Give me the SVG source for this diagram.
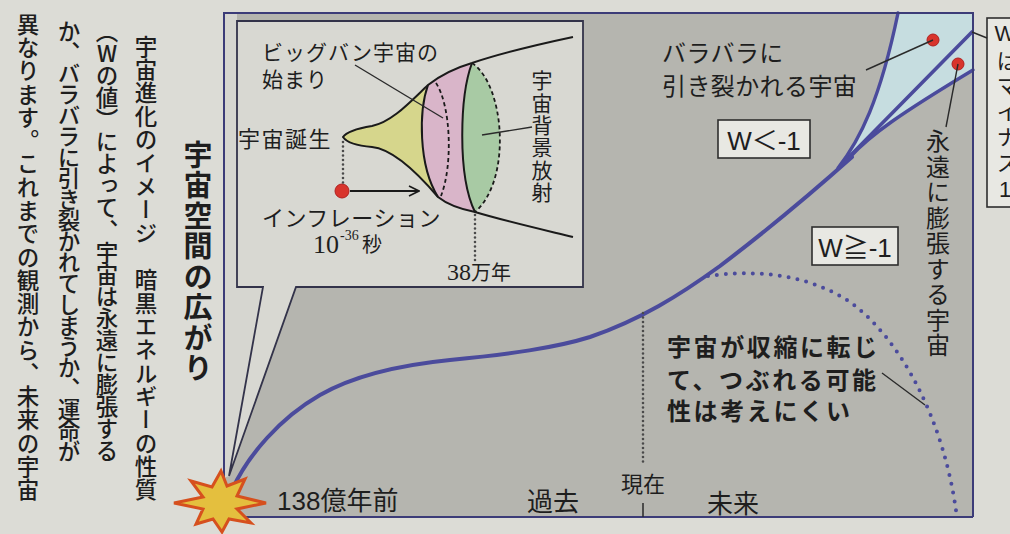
<svg xmlns="http://www.w3.org/2000/svg" width="1010" height="534" viewBox="0 0 1010 534">
  <style>
    .jp { font-family: "Noto Sans CJK JP", "Noto Sans CJK SC", sans-serif; fill: #1e1e1e; }
    .lat { font-family: "Liberation Sans", "Noto Sans CJK JP", sans-serif; fill: #1e1e1e; }
    .ser { font-family: "Liberation Serif", "Noto Sans CJK JP", serif; fill: #1e1e1e; }
    .vt { writing-mode: vertical-rl; text-orientation: upright; }
    .body { font-weight: 500; }
    .frame { fill: none; stroke: #3c3c78; stroke-width: 2; }
    .curve { fill: none; stroke: #4b4b9c; stroke-linecap: round; }
    .leader { fill: none; stroke: #2a2a2a; stroke-width: 1.4; }
    .ink { fill: none; stroke: #1a1a1a; stroke-width: 2; }
    .dash { fill: none; stroke: #1a1a1a; stroke-width: 1.8; stroke-dasharray: 4 3; }
    .dots { fill: none; stroke: #4a4a4a; stroke-width: 2.6; stroke-linecap: round; stroke-dasharray: 0 4.5; }
    .label-box { fill: #e8e8e3; stroke: #2e2e2e; stroke-width: 1.6; }
    .pin { fill: #d8342c; stroke: #b02020; stroke-width: 1; }
  </style>
  <defs>
    <marker id="chev" viewBox="0 0 12 12" refX="11" refY="6" markerWidth="12" markerHeight="12" markerUnits="userSpaceOnUse" orient="auto">
      <path d="M1,1 L11,6 L1,11" fill="none" stroke="#1a1a1a" stroke-width="1.6"/>
    </marker>
  </defs>

  <!-- paper -->
  <rect width="1010" height="534" fill="#dcdcd6"/>

  <!-- body text columns (vertical, right to left) -->
  <g id="article">
    <text class="jp vt" x="198" y="140" font-size="29" font-weight="bold" letter-spacing="1.5">宇宙空間の広がり</text>
    <text class="jp vt body" x="146" y="35" font-size="22.5" textLength="466" lengthAdjust="spacing">宇宙進化のイメージ　暗黒エネルギーの性質</text>
    <text class="jp vt body" x="107" y="20" font-size="22.5" textLength="442" lengthAdjust="spacing">（Wの値）によって、宇宙は永遠に膨張する</text>
    <text class="jp vt body" x="69" y="20" font-size="22.5" textLength="443" lengthAdjust="spacing">か、バラバラに引き裂かれてしまうか、運命が</text>
    <text class="jp vt body" x="28" y="13" font-size="22.5" textLength="488" lengthAdjust="spacing">異なります。これまでの観測から、未来の宇宙</text>
  </g>

  <!-- chart background -->
  <g id="chart">
    <rect x="224" y="13" width="749" height="504" fill="#b5b5af"/>
    <path d="M224,13 H237 V287 H263 L229,476 L224,478 Z" fill="#d6d6d0"/>
    <!-- region of ripping expansion -->
    <path d="M838,168 C860,140 880,100 898,13 L973,13 L973,70 C900,114 870,135 850,157 Z" fill="#c6dde0"/>
  </g>

  <!-- inset: the first moments -->
  <g id="inset">
    <path d="M237,21 H583 V287 H296 L229,476 L263,287 H237 Z" fill="#d8d8d2" stroke="#33334a" stroke-width="1.8" stroke-linejoin="miter"/>
    <!-- inflation era -->
    <path d="M343,137 C347,131 360,128 372,126 C392,122 410,102 428,85 C419,110 418,165 438,197 C415,170 392,149 372,147 C360,146 347,143 343,137 Z" fill="#d6d68c"/>
    <!-- big bang band -->
    <path d="M428,85 C442,74 455,68 472,63 C460,95 457,175 475,212 C460,209 448,205 438,197 C418,165 419,110 428,85 Z" fill="#d9b5c9"/>
    <!-- background radiation disc -->
    <path d="M472,63 C460,95 457,175 475,212 C512,180 505,85 472,63 Z" fill="#a8caa4"/>
    <path class="dash" d="M436,83 C451,106 453,165 441,196"/>
    <path class="dash" d="M472,63 C505,85 512,180 475,212"/>
    <path class="ink" d="M428,85 C419,110 418,165 438,197"/>
    <path class="ink" d="M472,63 C460,95 457,175 475,212"/>
    <path class="ink" d="M573,37 C540,44 505,52 472,63 C455,68 442,74 428,85 C410,102 392,122 372,126 C360,128 347,131 343,137 C347,143 360,146 372,147 C392,149 415,170 438,197 C448,205 460,209 475,212 C505,221 540,229 573,237"/>

    <text class="jp" x="262" y="60" font-size="21" letter-spacing="1">ビッグバン宇宙の</text>
    <text class="jp" x="262" y="87" font-size="21" letter-spacing="1">始まり</text>
    <text class="jp" x="238" y="147" font-size="22" letter-spacing="1.5">宇宙誕生</text>
    <text class="jp" x="262" y="226" font-size="22" letter-spacing="0.5">インフレーション</text>
    <text class="ser" x="313" y="253" font-size="26">10</text>
    <text class="ser" x="340" y="240" font-size="14">-36</text>
    <text class="jp" x="362" y="252" font-size="20">秒</text>
    <text class="jp vt" x="542" y="70" font-size="21" letter-spacing="1.3">宇宙背景放射</text>
    <text class="ser" x="447" y="280" font-size="24">38<tspan class="jp" font-size="20">万年</tspan></text>
    <circle class="pin" cx="342" cy="191" r="7"/>
  </g>

  <!-- expansion curves -->
  <g id="curves">
    <path class="curve" stroke-width="4" d="M232,490 C248,455 280,418 320,395 C355,375 400,365 450,360 C510,354 555,348 590,337 C640,320 680,295 720,266 C770,228 815,190 852,157"/>
    <path class="curve" stroke-width="3.4" d="M838,168 C860,140 880,100 898,13"/>
    <path class="curve" stroke-width="3.6" d="M846,160 L972,32"/>
    <path class="curve" stroke-width="3.4" d="M850,157 C870,135 900,114 973,70"/>
    <path class="curve" stroke-width="4" stroke-dasharray="0 9" stroke="#5a5ab0" d="M708,276 C750,270 805,272 850,302 C900,338 945,420 957,518"/>
  </g>

  <!-- frame and axis -->
  <g id="axes">
    <path class="frame" d="M224,478 V13 H973 V517"/>
    <path class="frame" d="M240,517 H973"/>
    <path class="dots" d="M643,313 V466"/>
    <path d="M643,503 V517" stroke="#2a2a2a" stroke-width="1.5"/>
  </g>

  <!-- start of the universe -->
  <g id="big-bang">
    <polygon points="221,471 227,486 245,479 237,496 266,503 237,509 251,523 229,519 222,532 213,519 196,524 203,509 174,503 203,497 191,481 212,487" fill="#e4bf3e" stroke="#d6501e" stroke-width="3" stroke-linejoin="miter"/>
  </g>

  <g id="axis-labels">
    <text class="lat" x="277" y="510" font-size="26">138<tspan class="jp">億年前</tspan></text>
    <text class="jp" x="527" y="511" font-size="26">過去</text>
    <text class="jp" x="643" y="492" font-size="22" text-anchor="middle">現在</text>
    <text class="jp" x="707" y="513" font-size="26">未来</text>
  </g>

  <g id="rip-label">
    <text class="jp" x="662" y="62" font-size="24" letter-spacing="0.4">バラバラに</text>
    <text class="jp" x="662" y="95" font-size="24" letter-spacing="0.4">引き裂かれる宇宙</text>
    <circle class="pin" cx="933" cy="40" r="6"/>
  </g>

  <g id="forever-label">
    <text class="jp vt" x="938" y="129" font-size="24" letter-spacing="1.5">永遠に膨張する宇宙</text>
    <circle class="pin" cx="958" cy="64" r="6"/>
  </g>

  <g id="w-lt">
    <rect class="label-box" x="718" y="120" width="92" height="38"/>
    <text class="lat" x="764" y="150" font-size="26" text-anchor="middle">W＜-1</text>
  </g>

  <g id="w-ge">
    <rect class="label-box" x="812" y="227" width="86" height="38"/>
    <text class="lat" x="855" y="257" font-size="26" text-anchor="middle">W≧-1</text>
  </g>

  <g id="w-eq">
    <rect class="label-box" x="987" y="18" width="40" height="189"/>
    <text class="lat vt" x="1005" y="21" font-size="22" letter-spacing="3.5">Wはマイナス1</text>
  </g>

  <g id="collapse-label">
    <text class="jp" x="667" y="356" font-size="24" font-weight="bold" letter-spacing="2.6">宇宙が収縮に転じ</text>
    <text class="jp" x="667" y="389" font-size="24" font-weight="bold" letter-spacing="2.6">て、つぶれる可能</text>
    <text class="jp" x="667" y="420" font-size="24" font-weight="bold" letter-spacing="2.6">性は考えにくい</text>
  </g>

  <!-- leader lines and arrow -->
  <g id="connectors">
    <path class="leader" d="M355,65 L443,118"/>
    <path class="leader" d="M482,135 L532,127"/>
    <path class="dots" d="M343,142 V184"/>
    <path class="dots" d="M475,215 V262"/>
    <path d="M350,191 H419" fill="none" stroke="#1a1a1a" stroke-width="1.8" marker-end="url(#chev)"/>
    <path class="leader" d="M933,40 L866,70"/>
    <path class="leader" d="M958,64 L946,127"/>
    <path class="leader" d="M972,32 L987,38"/>
    <path class="leader" d="M882,373 L925,405"/>
  </g>
</svg>
